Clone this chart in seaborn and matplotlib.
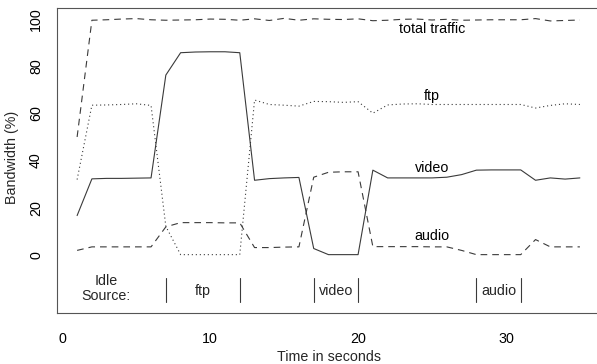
import matplotlib
matplotlib.use("Agg")
import matplotlib.pyplot as plt
import numpy as np
import pandas as pd
import seaborn as sns

# Bandwidth share per traffic class, sampled once per second
time = list(range(1, 36))
total_traffic = [50.0, 99.6, 99.8, 100.1, 100.3, 99.8, 99.6, 99.7, 99.8, 100.1,
                 100.0, 99.6, 100.2, 99.5, 100.4, 99.6, 100.2, 100.0, 99.9, 100.2,
                 99.4, 99.6, 100.0, 100.1, 99.7, 100.0, 99.6, 99.7, 99.8, 99.8,
                 99.8, 100.3, 99.3, 99.5, 99.7]
ftp = [31.9, 63.5, 63.6, 63.8, 64.1, 63.4, 12.0, 0.0, 0.0, 0.0,
       0.0, 0.0, 65.7, 63.8, 63.5, 63.1, 65.1, 65.0, 64.7, 65.0,
       60.1, 63.6, 64.0, 64.1, 63.8, 63.8, 63.8, 63.8, 63.8, 63.8,
       63.8, 62.3, 63.4, 64.1, 63.8]
video = [16.6, 32.2, 32.4, 32.4, 32.5, 32.6, 76.3, 85.8, 86.1, 86.2,
         86.2, 85.8, 31.6, 32.3, 32.6, 32.8, 2.6, 0.0, 0.0, 0.0,
         35.9, 32.6, 32.6, 32.6, 32.6, 32.9, 34.0, 35.9, 36.0, 36.0,
         36.0, 31.6, 32.6, 32.1, 32.6]
audio = [1.8, 3.3, 3.3, 3.3, 3.3, 3.3, 11.8, 13.6, 13.6, 13.6,
         13.5, 13.5, 3.0, 3.0, 3.2, 3.3, 32.9, 35.0, 35.2, 35.2,
         3.4, 3.4, 3.4, 3.4, 3.3, 3.3, 1.8, 0.0, 0.0, 0.0,
         0.0, 6.4, 3.3, 3.3, 3.3]

series_names = ["total traffic", "ftp", "video", "audio"]
series_label_x = [25, 25, 25, 25]
series_label_y = [95.7, 67.3, 37.0, 7.8]

# Idle-source periods along the bottom of the plot
source_bounds = [7, 12, 17, 20, 28, 31]
source_names = ["ftp", "video", "audio"]
source_name_x = [9.5, 18.5, 29.5]
source_title = "Idle\nSource:"
source_title_x = 2.95

xticks = [0, 10, 20, 30]
yticks = [-20, 0, 20, 40, 60, 80, 100]
ytick_labels = ["", "0", "20", "40", "60", "80", "100"]

sns.set_style("white")
plt.rcParams["font.family"] = ["Liberation Sans", "DejaVu Sans"]

fs = 10.3
line_col = "#3a3a3a"
frame_col = "#555555"

df = pd.DataFrame({
    "time": time * 4,
    "bw": total_traffic + ftp + video + audio,
    "series": sum([[n] * len(time) for n in series_names], []),
})

fig = plt.figure(figsize=(5.97, 3.64), dpi=100)
ax = fig.add_axes([57 / 597, 1 - 313 / 364, 543 / 597, 305 / 364])

styles = {
    "total traffic": (0, (6.0, 4.5)),
    "ftp": (0, (1.0, 2.6)),
    "video": "-",
    "audio": (0, (6.0, 4.5)),
}
for name in series_names:
    sub = df[df["series"] == name]
    sns.lineplot(data=sub, x="time", y="bw", ax=ax, color=line_col,
                 linewidth=0.8, linestyle=styles[name], legend=False,
                 estimator=None)

for name, lx, ly in zip(series_names, series_label_x, series_label_y):
    ax.text(lx, ly, name, ha="center", va="center", fontsize=fs, color="black")

for b in source_bounds:
    ax.plot([b, b], [-9.8, -20], color=line_col, linewidth=0.8)
for name, sx in zip(source_names, source_name_x):
    ax.text(sx, -15.3, name, ha="center", va="center", fontsize=fs)
ax.text(source_title_x, -14.4, source_title, ha="center", va="center",
        fontsize=fs, linespacing=1.05)

ax.set_xlim(-0.36, 36.36)
ax.set_ylim(-24.8, 104.8)
ax.set_xticks(xticks)
ax.set_xticklabels([str(t) for t in xticks])
ax.set_yticks(yticks)
ax.set_yticklabels(ytick_labels, rotation=90, va="center")

for s in ax.spines.values():
    s.set_color(frame_col)
    s.set_linewidth(0.8)
    s.set_visible(True)
ax.spines["right"].set_visible(False)
ax.tick_params(axis="both", direction="out", length=5, width=0.8,
               color=frame_col, labelsize=fs, labelcolor="black")
ax.tick_params(axis="x", pad=9)
ax.tick_params(axis="y", pad=5)

ax.set_xlabel("Time in seconds", fontsize=fs, va="center")
ax.set_ylabel("Bandwidth (%)", fontsize=fs, va="center")
ax.xaxis.set_label_coords(0.5, (313 - 357) / 305)
ax.yaxis.set_label_coords((12 - 57) / 543, 0.51)

fig.savefig("out.png", dpi=100)
